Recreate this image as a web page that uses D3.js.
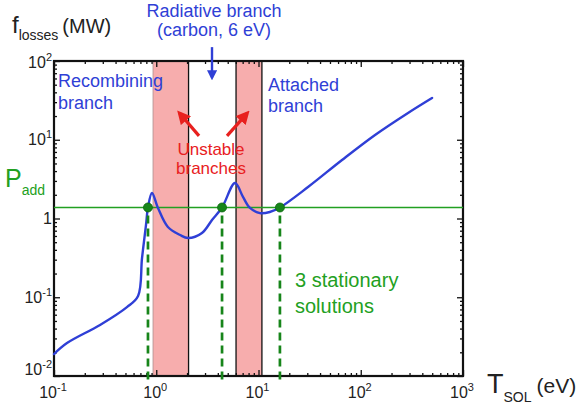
<!DOCTYPE html>
<html>
<head>
<meta charset="utf-8">
<script src="https://cdn.jsdelivr.net/npm/d3@7"></script>
<style>
  html, body { margin: 0; padding: 0; background: #fff; }
  svg { display: block; font-family: "Liberation Sans", Arial, Helvetica, sans-serif; }
</style>
</head>
<body>
<svg id="chart" width="577" height="407"></svg>
<script>
// Power losses vs SOL temperature, log-log
const curveT = [0.1, 0.134, 0.282, 0.517, 0.664, 0.726, 0.794, 0.83, 0.908, 1.04, 1.30, 1.71, 2.05, 2.80, 3.51, 4.40, 5.89, 7.05, 8.26, 10.35, 12.9, 16.2, 30.5, 65.6, 138, 290, 498];
const curveF = [0.019, 0.0262, 0.0445, 0.075, 0.104, 0.315, 0.83, 1.38, 2.11, 1.36, 0.78, 0.617, 0.565, 0.655, 0.957, 1.38, 2.82, 1.88, 1.36, 1.17, 1.21, 1.38, 2.51, 5.53, 11.5, 21.9, 33.9];

const pAdd = 1.38;                       // additional power level
const solutionsT = [0.83, 4.40, 16.2];   // stationary points on P_add
const unstableStart = [0.93, 6.03];      // unstable branch bands
const unstableEnd = [2.07, 10.8];

const xTickValues = [0.1, 1, 10, 100, 1000];
const xTickBases = ["10", "10", "10", "10", "10"];
const xTickExps = ["-1", "0", "1", "2", "3"];
const yTickValues = [0.01, 0.1, 1, 10, 100];
const yTickBases = ["10", "10", "1", "10", "10"];
const yTickExps = ["-2", "-1", "", "1", "2"];

const blue = "#2f3fd6", green = "#22a022", darkGreen = "#17851a", red = "#e8201e", pink = "#f7adad";

const svg = d3.select("#chart");
const L = 54, R = 463, T = 61, B = 376;
const x = d3.scaleLog().domain([0.1, 1000]).range([L, R]);
const y = d3.scaleLog().domain([0.01, 100]).range([B, T]);

// unstable bands
svg.selectAll("rect.band").data(unstableStart).enter().append("rect")
  .attr("class", "band")
  .attr("x", d => x(d))
  .attr("width", (d, i) => x(unstableEnd[i]) - x(d))
  .attr("y", T).attr("height", B - T)
  .attr("fill", pink);
svg.append("line")
  .attr("x1", x(unstableStart[0])).attr("x2", x(unstableStart[0]))
  .attr("y1", T).attr("y2", B).attr("stroke", "#b09090").attr("stroke-width", 0.8);
[unstableEnd[0], unstableStart[1], unstableEnd[1]].forEach(v => {
  svg.append("line").attr("x1", x(v)).attr("x2", x(v)).attr("y1", T).attr("y2", B)
    .attr("stroke", "#111").attr("stroke-width", 1.3);
});

// ticks (major + minor, inward, on all four sides)
const minorX = [], minorY = [];
for (let d = -1; d <= 2; d++) for (let k = 2; k <= 9; k++) minorX.push(k * Math.pow(10, d));
for (let d = -2; d <= 1; d++) for (let k = 2; k <= 9; k++) minorY.push(k * Math.pow(10, d));

function drawAxis(gen, transform, values, size) {
  const g = svg.append("g").attr("transform", transform)
    .call(gen.tickValues(values).tickSize(size).tickFormat(""));
  g.select(".domain").remove();
  g.selectAll(".tick line").attr("stroke", "#111").attr("stroke-width", 1.3);
}
drawAxis(d3.axisBottom(x), `translate(0,${B})`, xTickValues, -6);
drawAxis(d3.axisBottom(x), `translate(0,${B})`, minorX, -3);
drawAxis(d3.axisTop(x), `translate(0,${T})`, xTickValues, -6);
drawAxis(d3.axisTop(x), `translate(0,${T})`, minorX, -3);
drawAxis(d3.axisLeft(y), `translate(${L},0)`, yTickValues, -6);
drawAxis(d3.axisLeft(y), `translate(${L},0)`, minorY, -3);
drawAxis(d3.axisRight(y), `translate(${R},0)`, yTickValues, -6);
drawAxis(d3.axisRight(y), `translate(${R},0)`, minorY, -3);

// frame
svg.append("rect").attr("x", L).attr("y", T).attr("width", R - L).attr("height", B - T)
  .attr("fill", "none").attr("stroke", "#111").attr("stroke-width", 2.2);

// tick labels
xTickValues.forEach((v, i) => {
  const t = svg.append("text").attr("x", x(v) - 1).attr("y", 398)
    .attr("text-anchor", "middle").attr("fill", "#222");
  t.append("tspan").attr("font-size", 16).text(xTickBases[i]);
  t.append("tspan").attr("font-size", 11).attr("dy", -7).text(xTickExps[i]);
});
yTickValues.forEach((v, i) => {
  const base = Math.min(Math.max(y(v) + 5.5, 68), 375);
  const t = svg.append("text").attr("x", 52).attr("y", base)
    .attr("text-anchor", "end").attr("fill", "#222");
  t.append("tspan").attr("font-size", 16).text(yTickBases[i]);
  if (yTickExps[i]) t.append("tspan").attr("font-size", 11).attr("dy", -7).text(yTickExps[i]);
});

// axis titles
const yTitle = svg.append("text").attr("x", 12).attr("y", 33).attr("fill", "#222");
yTitle.append("tspan").attr("font-size", 24).text("f");
yTitle.append("tspan").attr("font-size", 14).attr("dy", 7).text("losses");
yTitle.append("tspan").attr("font-size", 20).attr("dy", -7).attr("dx", 4).text("(MW)");

const xTitle = svg.append("text").attr("x", 487).attr("y", 393).attr("fill", "#222");
xTitle.append("tspan").attr("font-size", 27).text("T");
xTitle.append("tspan").attr("font-size", 14).attr("dy", 9).text("SOL");
xTitle.append("tspan").attr("font-size", 21).attr("dy", -9).attr("dx", 5).text("(eV)");

// P_add level
svg.append("line").attr("x1", L).attr("x2", R).attr("y1", y(pAdd)).attr("y2", y(pAdd))
  .attr("stroke", green).attr("stroke-width", 1.6);
const pLabel = svg.append("text").attr("x", 5).attr("y", 187).attr("fill", green);
pLabel.append("tspan").attr("font-size", 25).text("P");
pLabel.append("tspan").attr("font-size", 14).attr("dy", 8).text("add");

// losses curve
const pts = curveT.map((t, i) => [t, curveF[i]]);
svg.append("path").datum(pts)
  .attr("fill", "none").attr("stroke", blue).attr("stroke-width", 2.4)
  .attr("stroke-linejoin", "round").attr("stroke-linecap", "round")
  .attr("d", d3.line().x(d => x(d[0])).y(d => y(d[1])).curve(d3.curveCatmullRom.alpha(0.5)));

// stationary solutions
svg.selectAll("line.sol").data(solutionsT).enter().append("line")
  .attr("class", "sol")
  .attr("x1", d => x(d)).attr("x2", d => x(d))
  .attr("y1", y(pAdd) + 8).attr("y2", B + 8)
  .attr("stroke", darkGreen).attr("stroke-width", 2.7).attr("stroke-dasharray", "8,5");
svg.selectAll("circle.sol").data(solutionsT).enter().append("circle")
  .attr("class", "sol")
  .attr("cx", d => x(d)).attr("cy", y(pAdd)).attr("r", 4.5)
  .attr("fill", darkGreen).attr("stroke", "#0d6610").attr("stroke-width", 0.8);

// annotations
svg.append("defs").selectAll("marker").data([["headBlue", blue], ["headRed", red]]).enter()
  .append("marker")
  .attr("id", d => d[0]).attr("viewBox", "0 0 10 10").attr("refX", 7).attr("refY", 5)
  .attr("markerWidth", 4.2).attr("markerHeight", 4.2).attr("orient", "auto")
  .attr("markerUnits", "strokeWidth")
  .append("path").attr("d", "M0,0 L10,5 L0,10 z").attr("fill", d => d[1]);

function arrow(t0, f0, t1, f1, color, marker, w) {
  svg.append("line").attr("x1", x(t0)).attr("y1", y(f0)).attr("x2", x(t1)).attr("y2", y(f1))
    .attr("stroke", color).attr("stroke-width", w).attr("marker-end", `url(#${marker})`);
}
arrow(3.51, 150, 3.51, 62, blue, "headBlue", 2.4);
arrow(2.62, 11.2, 1.70, 21.5, red, "headRed", 3.2);
arrow(4.92, 11.2, 7.70, 21.5, red, "headRed", 3.2);

function label(lines, xPos, y0, dy, size, color, anchor) {
  lines.forEach((s, i) => {
    svg.append("text").attr("x", xPos).attr("y", y0 + i * dy)
      .attr("font-size", size).attr("fill", color).attr("text-anchor", anchor).text(s);
  });
}
label(["Radiative branch", "(carbon, 6 eV)"], x(3.51) + 2, 17, 19, 18, blue, "middle");
label(["Recombining", "branch"], 58, 87, 22, 18, blue, "start");
label(["Attached", "branch"], 268, 91, 21, 18, blue, "start");
label(["Unstable", "branches"], 211, 155, 19, 17, red, "middle");
label(["3 stationary", "solutions"], 295, 287, 26, 20, green, "start");
</script>
</body>
</html>
